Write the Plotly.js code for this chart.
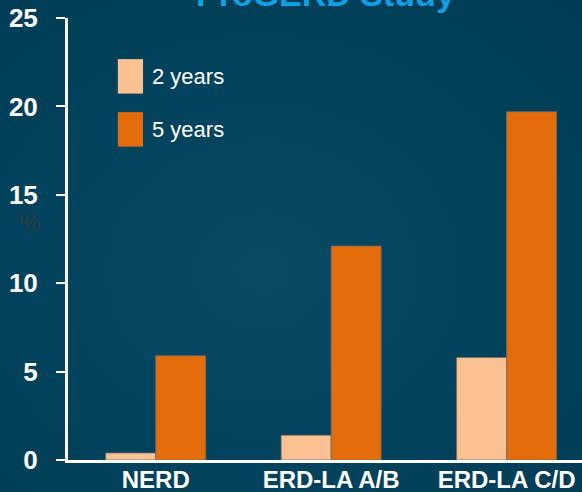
<!DOCTYPE html>
<html>
<head>
<meta charset="utf-8">
<script src="https://cdn.plot.ly/plotly-3.0.1.min.js"></script>
<style>
  html, body { margin: 0; padding: 0; }
  body {
    width: 582px; height: 492px; overflow: hidden;
    background: radial-gradient(ellipse at 45% 55%, #0a4a63 0%, #03425c 55%, #003b54 100%);
  }
  #chart { width: 582px; height: 492px; }
</style>
</head>
<body>
<div id="chart"></div>
<script>
// Reflux disease progression by baseline group
const categories = ['NERD', 'ERD-LA A/B', 'ERD-LA C/D'];
const seriesNames = ['2 years', '5 years'];
const twoYears = [0.4, 1.4, 5.8];
const fiveYears = [5.9, 12.1, 19.7];
const yTickValues = [0, 5, 10, 15, 20, 25];
const titleText = 'ProGERD Study';
const yLabel = '%';

const peach = '#fbc193';
const orange = '#e46c0a';
const font = '"Liberation Sans", Arial, sans-serif';
const edge = { color: 'rgba(110,110,110,0.7)', width: 1 };

const traces = [
  { type: 'bar', name: seriesNames[0], x: categories, y: twoYears,
    marker: { color: peach, line: edge }, hoverinfo: 'none' },
  { type: 'bar', name: seriesNames[1], x: categories, y: fiveYears,
    marker: { color: orange, line: edge }, hoverinfo: 'none' }
];

// Legend built from large swatches plus labels
const swTop = 0.907, swH = 0.078, swStep = 0.120;
const legendShapes = [peach, orange].map((c, i) => ({
  type: 'rect', xref: 'paper', yref: 'paper',
  x0: 0.097, x1: 0.146,
  y0: swTop - i * swStep - swH, y1: swTop - i * swStep,
  fillcolor: c, line: { width: 0 }
}));
const legendLabels = seriesNames.map((s, i) => ({
  text: s, xref: 'paper', yref: 'paper',
  x: 0.160, xanchor: 'left',
  y: swTop - i * swStep - swH / 2, yanchor: 'middle',
  showarrow: false, font: { family: font, size: 22, color: '#ffffff' }
}));

const layout = {
  width: 582, height: 492,
  margin: { l: 68, r: 0, t: 18, b: 32, pad: 0 },
  paper_bgcolor: 'rgba(0,0,0,0)',
  plot_bgcolor: 'rgba(0,0,0,0)',
  showlegend: false,
  barmode: 'group',
  bargap: 0.43,
  bargroupgap: 0,
  font: { family: font, color: '#ffffff' },
  xaxis: {
    type: 'category',
    range: [-0.5, 2.43],
    showline: true, linecolor: '#ffffff', linewidth: 3,
    ticks: '', ticklen: 0, ticklabelstandoff: -4,
    showgrid: false, zeroline: false,
    tickfont: { family: font, size: 24, color: '#ffffff', weight: 'bold' }
  },
  yaxis: {
    range: [0, 25],
    tickvals: yTickValues,
    showline: true, linecolor: '#ffffff', linewidth: 3,
    ticks: 'outside', ticklen: 9, tickwidth: 2, tickcolor: '#ffffff',
    ticklabelstandoff: 13,
    showgrid: false, zeroline: false,
    tickfont: { family: font, size: 26, color: '#ffffff', weight: 'bold' }
  },
  shapes: legendShapes,
  annotations: [
    { text: titleText, xref: 'paper', yref: 'paper', x: 0.5, xanchor: 'center',
      y: 1, yanchor: 'bottom', yshift: 3, showarrow: false,
      font: { family: font, size: 34, color: '#12a0e4', weight: 'bold' } },
    { text: yLabel, xref: 'paper', yref: 'paper', x: 0, xanchor: 'center',
      xshift: -39, y: (460 - 222) / 442, yanchor: 'middle', showarrow: false,
      font: { family: font, size: 24, color: '#2c3a42' } },
    ...legendLabels
  ]
};

Plotly.newPlot('chart', traces, layout, { staticPlot: true, displayModeBar: false });
</script>
</body>
</html>
